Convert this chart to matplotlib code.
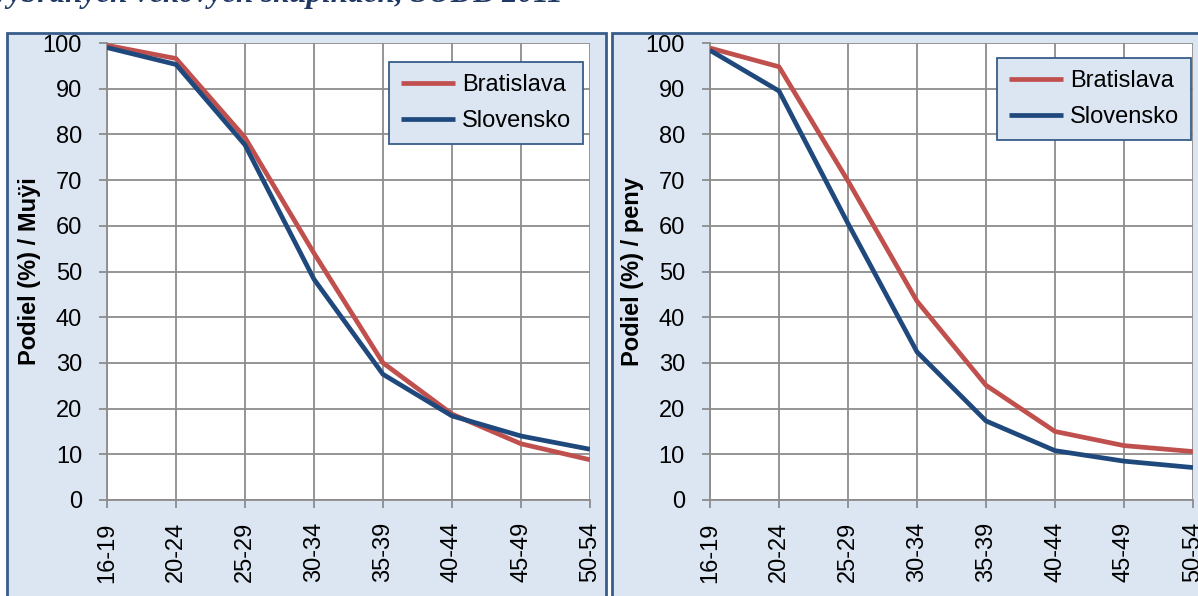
import matplotlib.pyplot as plt
from matplotlib.patches import Rectangle

# Age groups and shares (%) of persons never married, SODB 2011
vek = ['16-19', '20-24', '25-29', '30-34', '35-39', '40-44', '45-49', '50-54']

muzi_ba = [99.5, 96.6, 79.3, 54.0, 30.0, 18.8, 12.3, 8.8]
muzi_sk = [99.0, 95.3, 77.7, 48.3, 27.5, 18.4, 14.0, 11.1]

zeny_ba = [98.9, 94.8, 69.8, 43.5, 25.1, 15.0, 11.9, 10.6]
zeny_sk = [98.4, 89.5, 60.5, 32.4, 17.3, 10.8, 8.5, 7.1]

RED = '#C0504D'
BLUE = '#1F497D'
FRAME = '#385D8A'
BG = '#DCE6F2'
GRID = '#8C8C8C'
FS = 17

plt.rcParams['font.family'] = ['Liberation Sans', 'DejaVu Sans']

W, H = 1198, 596
fig = plt.figure(figsize=(W / 100, H / 100), dpi=100)

# chart title, only its lower part fits on the page
fig.text(-6 / W, 1 - 2 / H, 'vybraných vekových skupinách, SODB 2011',
         family=['Liberation Serif', 'DejaVu Serif'], style='italic', weight='bold',
         fontsize=22.5, color='#1F3864', ha='left', va='baseline')

# panel backgrounds with dark blue frames
for x0, x1 in [(7, 606), (612, 1205)]:
    fig.patches.append(Rectangle((x0 / W, -0.05), (x1 - x0) / W, (H - 33) / H + 0.05,
                                 transform=fig.transFigure, facecolor=BG,
                                 edgecolor=FRAME, linewidth=2, zorder=-1))


def panel(left, ba, sk, ylabel, leg_anchor):
    ax = fig.add_axes([left / W, (H - 500) / H, 483 / W, 457 / H])
    ax.set_zorder(1)
    x = range(len(vek))
    ax.plot(x, ba, color=RED, lw=3.4, label='Bratislava', solid_capstyle='butt', zorder=3)
    ax.plot(x, sk, color=BLUE, lw=3.4, label='Slovensko', solid_capstyle='butt', zorder=3)
    ax.set_xlim(0, len(vek) - 1)
    ax.set_ylim(0, 100)
    ax.set_yticks(range(0, 101, 10))
    ax.set_xticks(list(x))
    ax.set_xticklabels(vek, rotation=90)
    ax.set_facecolor('white')
    ax.grid(True, color=GRID, lw=1.3)
    ax.set_axisbelow(True)
    for s in ax.spines.values():
        s.set_visible(False)
    for side in ('left', 'bottom'):
        ax.spines[side].set_visible(True)
        ax.spines[side].set_color(GRID)
        ax.spines[side].set_linewidth(1.3)
    ax.tick_params(axis='both', direction='out', length=6, width=1.3, color=GRID,
                   labelsize=FS, pad=10)
    ax.tick_params(axis='y', pad=12)
    ax.set_ylabel(ylabel, fontsize=FS, fontweight='bold', labelpad=1)
    leg = ax.legend(loc='upper right', bbox_to_anchor=leg_anchor, fontsize=FS,
                    frameon=True, fancybox=False, handlelength=2.3, borderpad=0.5,
                    labelspacing=0.6, handletextpad=0.3, borderaxespad=0)
    leg.get_frame().set_facecolor(BG)
    leg.get_frame().set_edgecolor(FRAME)
    leg.get_frame().set_linewidth(1.3)
    leg.get_frame().set_alpha(1)
    return ax


panel(107, muzi_ba, muzi_sk, 'Podiel (%) / Muÿi', (0.9855, 0.958))
panel(710, zeny_ba, zeny_sk, 'Podiel (%) / peny', (0.996, 0.967))

fig.savefig('out.png', dpi=100)
